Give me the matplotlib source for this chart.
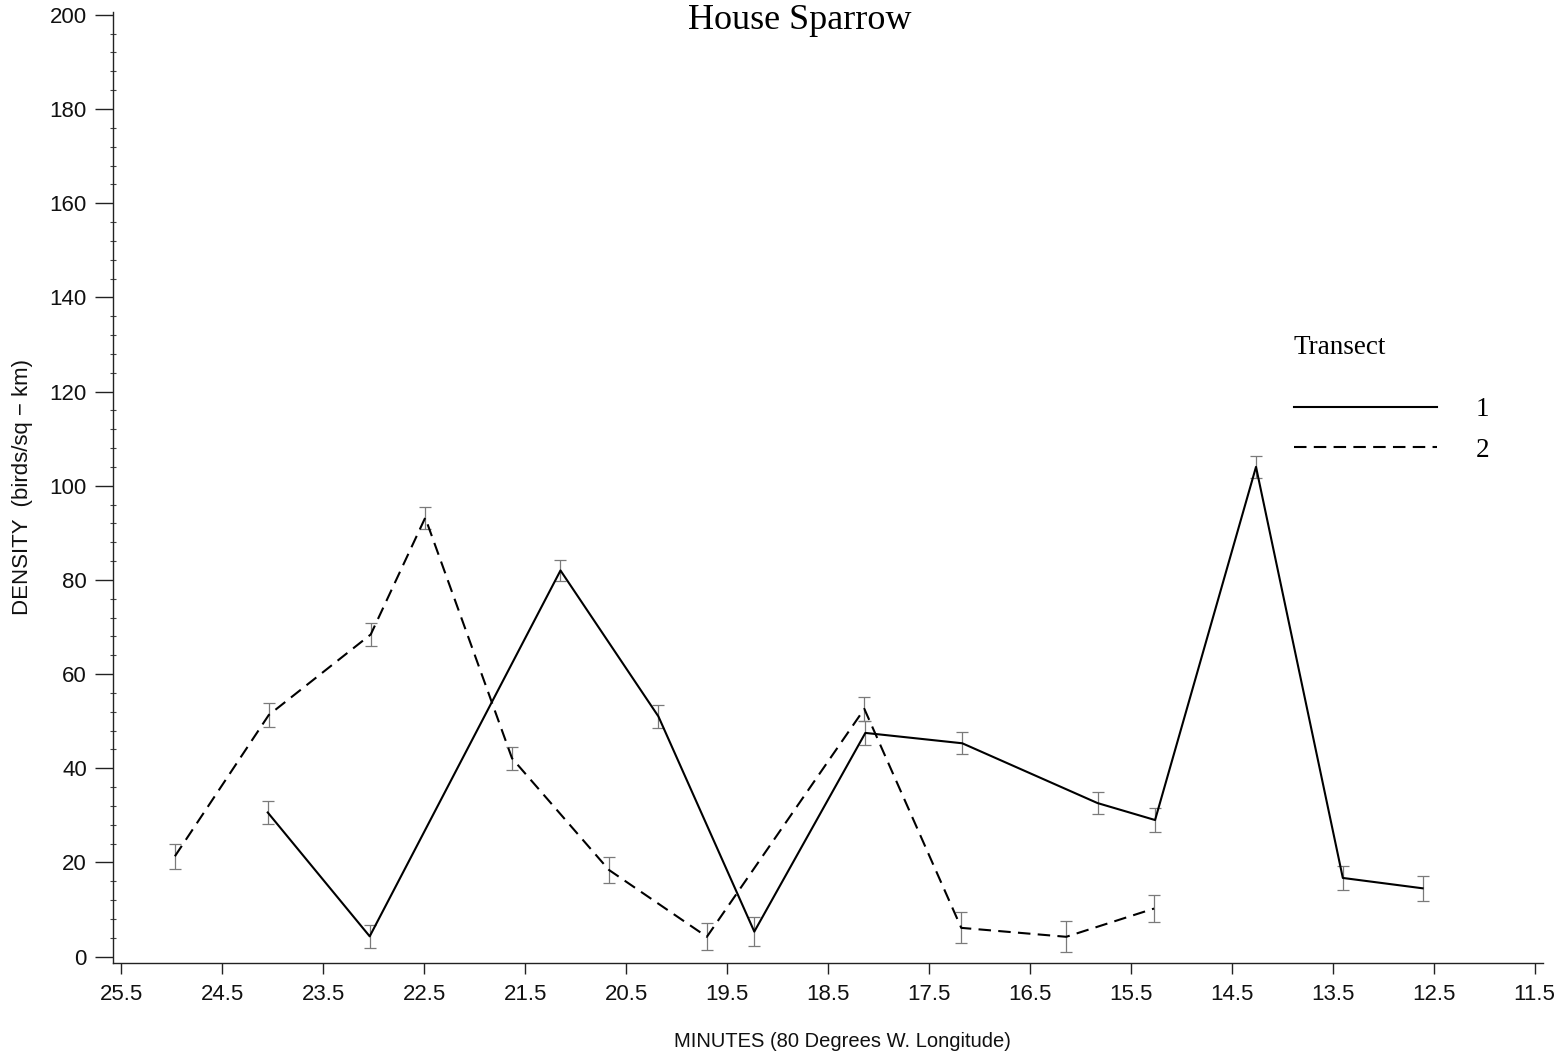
import matplotlib
matplotlib.use("Agg")
import matplotlib.pyplot as plt
from matplotlib.ticker import MultipleLocator, FixedLocator
from matplotlib.lines import Line2D

# ── data ─────────────────────────────────────────────────────────────────────
T1_X   = [24.05, 23.04, 21.15, 20.18, 19.23, 18.13, 17.17, 15.83, 15.26, 14.26, 13.40, 12.61]
T1_Y   = [30.6, 4.3, 82.0, 51.0, 5.3, 47.5, 45.3, 32.6, 29.0, 104.0, 16.7, 14.5]
T1_ERR = [2.5, 2.4, 2.3, 2.4, 3.1, 2.5, 2.3, 2.4, 2.5, 2.3, 2.6, 2.7]

T2_X   = [24.97, 24.04, 23.03, 22.49, 21.63, 20.67, 19.70, 18.14, 17.18, 16.14, 15.27]
T2_Y   = [21.3, 51.3, 68.4, 93.2, 42.1, 18.4, 4.2, 52.6, 6.1, 4.2, 10.2]
T2_ERR = [2.6, 2.5, 2.4, 2.3, 2.5, 2.7, 2.9, 2.5, 3.3, 3.3, 2.8]

X_TICKS = [25.5, 24.5, 23.5, 22.5, 21.5, 20.5, 19.5, 18.5, 17.5, 16.5, 15.5, 14.5, 13.5, 12.5, 11.5]
LEGEND_LABELS = ["1", "2"]

SANS   = ["Liberation Sans Narrow", "Liberation Sans", "DejaVu Sans"]
SERIF  = ["Liberation Serif", "DejaVu Serif"]
DASHES = (6, 3.5)
ERR_COLOR = "#7a7a7a"

W, H = 1562, 1051
fig = plt.figure(figsize=(W / 100, H / 100), dpi=100)
ax = fig.add_axes([113.3 / W, 1 - 962.7 / H, 1429.4 / W, 950.7 / H])

# error bars first, lines on top
for xs, ys, es in [(T1_X, T1_Y, T1_ERR), (T2_X, T2_Y, T2_ERR)]:
    ax.errorbar(xs, ys, yerr=es, fmt="none", ecolor=ERR_COLOR,
                elinewidth=0.9, capsize=4.2, capthick=0.9, zorder=2)

ax.plot(T1_X, T1_Y, color="black", lw=1.5, zorder=3)
ax.plot(T2_X, T2_Y, color="black", lw=1.5, dashes=DASHES, zorder=3)

ax.set_xlim(25.58, 11.42)
ax.set_ylim(-1.3, 200.6)

ax.xaxis.set_major_locator(FixedLocator(X_TICKS))
ax.set_xticklabels([f"{v:.1f}" for v in X_TICKS])
ax.yaxis.set_major_locator(MultipleLocator(20))
ax.yaxis.set_minor_locator(MultipleLocator(4))

for side in ("top", "right"):
    ax.spines[side].set_visible(False)
for side in ("left", "bottom"):
    ax.spines[side].set_linewidth(1.0)
    ax.spines[side].set_color("#222222")

ax.tick_params(axis="x", which="major", direction="out", length=8, width=1.0, pad=7,
               color="#222222")
ax.tick_params(axis="y", which="major", direction="out", length=13, width=1.0, pad=6,
               color="#222222")
ax.tick_params(axis="y", which="minor", direction="inout", length=4, width=0.8,
               color="#444444")
for lab in ax.get_xticklabels() + ax.get_yticklabels():
    lab.set_family(SANS)
    lab.set_fontsize(16)
    lab.set_color("#111111")

ax.set_xlabel("MINUTES (80 Degrees W. Longitude)", family=SANS, fontsize=14.5, color="#111111")
ax.xaxis.set_label_coords((842 - 113.3) / 1429.4, -0.073)
ax.set_ylabel("DENSITY  (birds/sq − km)", family=["Liberation Sans", "DejaVu Sans"],
              fontsize=16, color="#111111")
ax.yaxis.set_label_coords(-0.056, 0.5)

fig.text(800 / W, 1 - 29 / H, "House Sparrow", family=SERIF, fontsize=26,
         ha="center", va="baseline")

handles = [Line2D([], [], color="black", lw=1.5),
           Line2D([], [], color="black", lw=1.5, dashes=DASHES)]
leg = ax.legend(handles, LEGEND_LABELS, title="Transect", frameon=False,
                loc="upper left", bbox_to_anchor=(1253 / W, 1 - 294 / H),
                bbox_transform=fig.transFigure, handlelength=5.3, handletextpad=1.42,
                labelspacing=0.57, borderpad=1.0, alignment="left",
                prop={"family": SERIF, "size": 19.5},
                title_fontproperties={"family": SERIF, "size": 19.5})
# wider gap between the title and the first entry
leg._legend_box.sep = 27

fig.savefig("out.png", dpi=100)
